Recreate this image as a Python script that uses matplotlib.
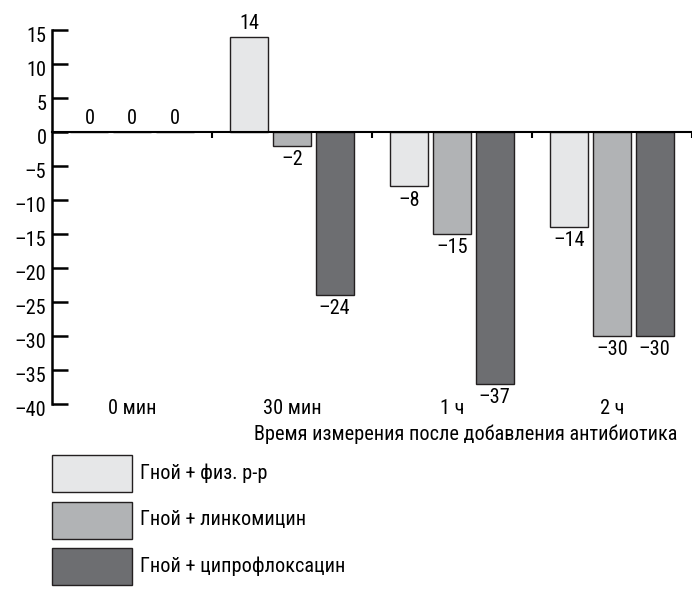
import numpy as np
import matplotlib.pyplot as plt
import matplotlib.transforms as mtransforms
from matplotlib import font_manager as fm
from matplotlib.patches import Rectangle

# Дані з графіка
categories = ['0 мин', '30 мин', '1 ч', '2 ч']
series_names = ['Гной + физ. р-р', 'Гной + линкомицин', 'Гной + ципрофлоксацин']
fiz = [0, 14, -8, -14]
linko = [0, -2, -15, -30]
cipro = [0, -24, -37, -30]
yticks = [15, 10, 5, 0, -5, -10, -15, -20, -25, -30, -35, -40]
ytick_labels = ['15', '10', '5', '0', '–5', '–10', '–15', '–20', '–25', '–30', '–35', '–40']
xlabel = 'Время измерения после добавления антибиотика'

colors = ['#e6e7e8', '#b1b3b5', '#6d6e71']
edge = '#231f20'

# вузький шрифт, якщо є
names = {f.name for f in fm.fontManager.ttflist}
narrow = [n for n in ['Liberation Sans Narrow', 'Roboto Condensed', 'Arial Narrow'] if n in names]
if narrow:
    plt.rcParams['font.family'] = [narrow[0], 'DejaVu Sans']
    fs = 14.6
else:
    plt.rcParams['font.family'] = ['Liberation Sans', 'DejaVu Sans']
    fs = 14

W, H = 692, 614
fig = plt.figure(figsize=(W / 100, H / 100), dpi=100)
ax = fig.add_axes([52 / W, 1 - 404 / H, 640 / W, (404 - 30) / H])

x = np.arange(len(categories))
width = 0.2375
step = 0.266
data = [fiz, linko, cipro]

for k, (vals, c) in enumerate(zip(data, colors)):
    pos = x + (k - 1) * step
    ax.bar(pos, vals, width, color=c, edgecolor=edge, linewidth=1.0, zorder=2)
    for p, v in zip(pos, vals):
        lab = str(v).replace('-', '–')
        if v >= 0:
            ax.annotate(lab, (p, v), xytext=(0, 3), textcoords='offset points',
                        ha='center', va='bottom', fontsize=fs, clip_on=False)
        else:
            ax.annotate(lab, (p, v), xytext=(0, -3), textcoords='offset points',
                        ha='center', va='top', fontsize=fs, clip_on=False)

ax.set_xlim(-0.5, 3.5)
ax.set_ylim(-40, 15)

# Осі
for s in ['top', 'right']:
    ax.spines[s].set_visible(False)
ax.spines['bottom'].set_position(('data', 0))
ax.spines['bottom'].set_linewidth(1.5)
ax.spines['left'].set_linewidth(1.8)
ax.spines['bottom'].set_zorder(3)

ax.set_yticks(yticks)
ax.set_yticklabels(ytick_labels, fontsize=fs)
ax.tick_params(axis='y', direction='in', length=11.5, width=1.8, pad=4)
# підписи трохи нижче поділок
off = mtransforms.ScaledTranslation(0, -4 / 100, fig.dpi_scale_trans)
for t in ax.get_yticklabels():
    t.set_transform(t.get_transform() + off)

ax.set_xticks(x[:-1] + 0.5)
ax.set_xticks([3.5], minor=True)
ax.set_xticklabels([])
ax.tick_params(axis='x', which='both', direction='out', length=4, width=1.5)

for i, cat in enumerate(categories):
    ax.annotate(cat, (i, 0), xycoords=('data', 'axes fraction'), xytext=(0, -3),
                textcoords='offset points', ha='center', va='center', fontsize=fs,
                annotation_clip=False)

fig.text(466 / W, 1 - 434 / H, xlabel, ha='center', va='center', fontsize=fs)

# Легенда
tops = [455, 502, 548]
for name, c, t in zip(series_names, colors, tops):
    fig.patches.append(Rectangle((52 / W, 1 - (t + 37) / H), 80 / W, 37 / H,
                                 facecolor=c, edgecolor=edge, linewidth=1.0,
                                 transform=fig.transFigure, figure=fig))
    fig.text(140 / W, 1 - (t + 18) / H, name, ha='left', va='center', fontsize=fs)

fig.savefig('out.png', dpi=100)
